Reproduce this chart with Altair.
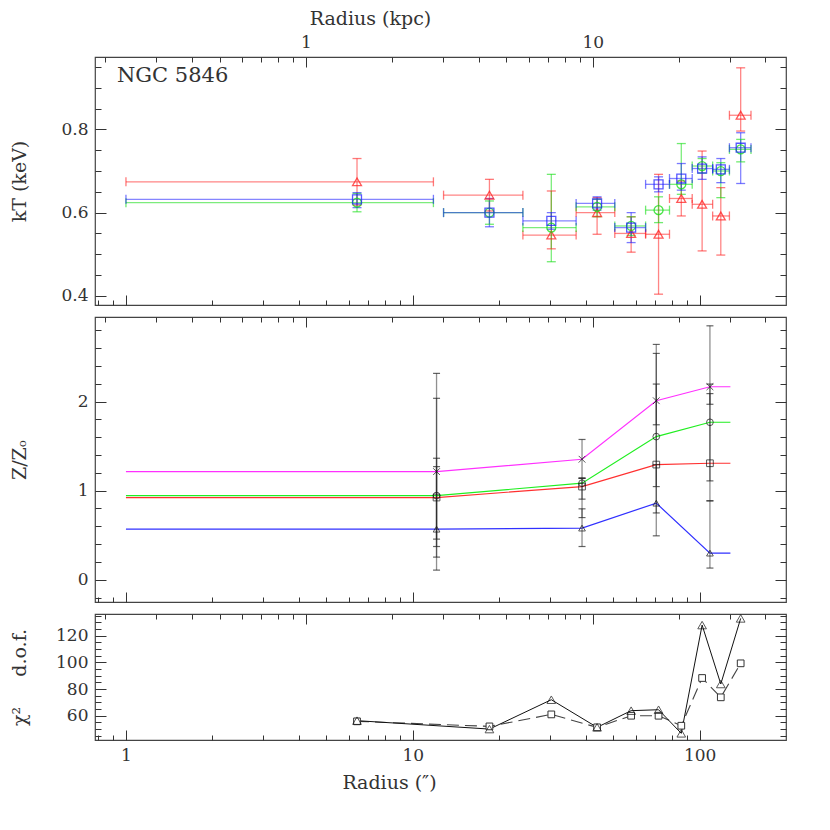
import altair as alt
import pandas as pd

# ---------------- top panel: kT ----------------
BIN_CENTER = [6.39, 18.5, 30.4, 43.9, 57.7, 71.9, 86.3, 102.0, 118.5, 139.0]
BIN_LO = [1.0, 12.8, 24.2, 37.1, 50.6, 64.8, 78.5, 94.2, 111.0, 127.0]
BIN_HI = [11.8, 24.2, 37.1, 50.6, 64.8, 78.5, 94.2, 111.0, 127.0, 151.0]

KT_RED = [0.674, 0.642, 0.546, 0.600, 0.550, 0.548, 0.634, 0.620, 0.592, 0.834]
KT_RED_LO = [0.618, 0.604, 0.513, 0.548, 0.505, 0.404, 0.592, 0.508, 0.498, 0.796]
KT_RED_HI = [0.730, 0.680, 0.652, 0.636, 0.590, 0.692, 0.676, 0.748, 0.660, 0.948]
KT_BLUE = [0.632, 0.600, 0.580, 0.622, 0.564, 0.668, 0.682, 0.706, 0.704, 0.756]
KT_BLUE_LO = [0.612, 0.566, 0.560, 0.606, 0.528, 0.650, 0.654, 0.680, 0.672, 0.670]
KT_BLUE_HI = [0.648, 0.634, 0.600, 0.638, 0.600, 0.686, 0.718, 0.734, 0.730, 0.792]
KT_GREEN = [0.624, 0.600, 0.564, 0.614, 0.568, 0.606, 0.668, 0.712, 0.700, 0.752]
KT_GREEN_LO = [0.602, 0.572, 0.482, 0.590, 0.545, 0.576, 0.644, 0.695, 0.636, 0.722]
KT_GREEN_HI = [0.646, 0.628, 0.692, 0.632, 0.590, 0.638, 0.766, 0.730, 0.720, 0.776]

# ---------------- middle panel: Z/Zo ----------------
Z_RADIUS = [12.1, 38.9, 70.6, 108.6]
Z_LINE_START = 1.0
Z_LINE_END = 128.0
Z_MAGENTA = [1.214, 1.353, 2.010, 2.167]
Z_MAGENTA_LO = [0.373, 1.14, 1.74, 1.97]
Z_MAGENTA_HI = [2.317, 1.575, 2.642, 2.851]
Z_GREEN = [0.945, 1.084, 1.607, 1.768]
Z_GREEN_LO = [0.254, 0.905, 1.046, 1.11]
Z_GREEN_HI = [2.037, 1.14, 2.197, 2.197]
Z_RED = [0.923, 1.046, 1.293, 1.308]
Z_RED_LO = [0.456, 0.698, 0.75, 0.886]
Z_RED_HI = [1.364, 1.14, 2.541, 2.09]
Z_BLUE = [0.568, 0.580, 0.860, 0.299]
Z_BLUE_LO = [0.108, 0.373, 0.493, 0.131]
Z_BLUE_HI = [1.270, 0.796, 1.293, 0.886]

# ---------------- bottom panel: chi2 / dof ----------------
CHI_TRI = [56.3, 50.0, 72.0, 51.3, 63.8, 64.5, 46.8, 128.0, 83.8, 133.0]
CHI_SQ = [55.8, 52.0, 61.0, 51.3, 60.0, 60.0, 52.5, 88.3, 73.8, 99.3]

# ---------------- axes ----------------
X_DOMAIN = [0.78, 200]
X_MAJOR = [1, 10, 100]
X_MINOR = [0.8, 0.9, 2, 3, 4, 5, 6, 7, 8, 9, 20, 30, 40, 50, 60, 70, 80, 90]
ARCSEC_PER_KPC = 4.24
KPC_MAJOR = [1, 10]
KPC_MINOR = [0.2, 0.3, 0.4, 0.5, 0.6, 0.7, 0.8, 0.9, 2, 3, 4, 5, 6, 7, 8, 9, 20, 30, 40]

KT_DOMAIN = [0.378, 0.974]
KT_MAJOR = [0.4, 0.6, 0.8]
KT_MINOR = [0.45, 0.5, 0.55, 0.65, 0.7, 0.75, 0.85, 0.9, 0.95]
Z_DOMAIN = [-0.25, 2.95]
Z_MAJOR = [0, 1, 2]
Z_MINOR = [-0.2, 0.2, 0.4, 0.6, 0.8, 1.2, 1.4, 1.6, 1.8, 2.2, 2.4, 2.6, 2.8]
CHI_DOMAIN = [41.8, 136.3]
CHI_MAJOR = [60, 80, 100, 120]
CHI_MINOR = [45, 50, 55, 65, 70, 75, 85, 90, 95, 105, 110, 115, 125, 130, 135]

W = 691
H_TOP, H_MID, H_BOT = 248, 285, 126
FONT = "DejaVu Serif"
TXT = "#333333"
TICK = "#333333"

XS = alt.Scale(type="log", domain=X_DOMAIN, nice=False)
NB = "\u00a0"


def axis_layers(ys, ymid, y_major, y_minor, y_fmt, y_title, height,
                bottom_labels=False, top_labels=False):
    dummy = pd.DataFrame({"x": [10.0], "y": [ymid]})
    base = alt.Chart(dummy).mark_point(opacity=0)
    common = dict(domain=False, grid=False, labelFont=FONT, labelFontSize=17,
                  labelColor=TXT, tickColor=TICK, tickWidth=1, titleFont=FONT,
                  titleFontSize=19, titleColor=TXT, titleFontWeight="normal")
    xb = dict(orient="bottom", values=X_MAJOR, tickSize=10, offset=-10,
              labels=bottom_labels, format="d", labelPadding=7, **common)
    if bottom_labels:
        xb.update(title="Radius (\u2033)", titlePadding=10, titleX=294)
    else:
        xb.update(title=None)
    l1 = base.encode(
        x=alt.X("x:Q", scale=XS, axis=alt.Axis(**xb)),
        y=alt.Y("y:Q", scale=ys, axis=alt.Axis(
            orient="left", values=y_major, tickSize=11, offset=-11, format=y_fmt,
            labelPadding=7, title=y_title, titleX=-77, titleY=height / 2,
            titleAngle=-90, **common)),
    )
    l2 = base.encode(
        x=alt.X("x:Q", scale=XS, axis=alt.Axis(
            orient="bottom", values=X_MINOR, tickSize=5, offset=-5, labels=False,
            title=None, **common)),
        y=alt.Y("y:Q", scale=ys, axis=alt.Axis(
            orient="left", values=y_minor, tickSize=6, offset=-6, labels=False,
            title=None, **common)),
    )
    xt = dict(orient="top", values=[v * ARCSEC_PER_KPC for v in KPC_MAJOR],
              tickSize=10, offset=-10, labels=top_labels,
              labelExpr="datum.value < 10 ? '1' : '10'", labelPadding=6, **common)
    if top_labels:
        xt.update(title="Radius (kpc)", titlePadding=5, titleX=275)
    else:
        xt.update(title=None)
    l3 = base.encode(
        x=alt.X("x:Q", scale=XS, axis=alt.Axis(**xt)),
        y=alt.Y("y:Q", scale=ys, axis=alt.Axis(
            orient="right", values=y_major, tickSize=11, offset=-11, labels=False,
            title=None, **common)),
    )
    l4 = base.encode(
        x=alt.X("x:Q", scale=XS, axis=alt.Axis(
            orient="top", values=[v * ARCSEC_PER_KPC for v in KPC_MINOR],
            tickSize=5, offset=-5, labels=False, title=None, **common)),
        y=alt.Y("y:Q", scale=ys, axis=alt.Axis(
            orient="right", values=y_minor, tickSize=6, offset=-6, labels=False,
            title=None, **common)),
    )
    return [l1, l2, l3, l4]


def xq(f, sc=XS):
    return alt.X(f, scale=sc, axis=None)


def yq(f, sc):
    return alt.Y(f, scale=sc, axis=None)


# ---------------- top panel ----------------
YS_TOP = alt.Scale(domain=KT_DOMAIN, nice=False, zero=False)
top_series = [
    ("red", KT_RED, KT_RED_LO, KT_RED_HI),
    ("green", KT_GREEN, KT_GREEN_LO, KT_GREEN_HI),
    ("blue", KT_BLUE, KT_BLUE_LO, KT_BLUE_HI),
]
rows, xcaps, ycaps = [], [], []
for name, kt, lo, hi in top_series:
    for i in range(len(BIN_CENTER)):
        rows.append(dict(s=name, r=BIN_CENTER[i], rlo=BIN_LO[i], rhi=BIN_HI[i],
                         kt=kt[i], lo=lo[i], hi=hi[i]))
        xcaps.append(dict(s=name, x=BIN_LO[i], y=kt[i]))
        xcaps.append(dict(s=name, x=BIN_HI[i], y=kt[i]))
        ycaps.append(dict(s=name, x=BIN_CENTER[i], y=lo[i]))
        ycaps.append(dict(s=name, x=BIN_CENTER[i], y=hi[i]))
top_df = pd.DataFrame(rows)
COL = alt.Color("s:N", scale=alt.Scale(domain=["red", "green", "blue"],
                                       range=["#ff2020", "#10dd10", "#2020ff"]),
                legend=None)
SHP = alt.Shape("s:N", scale=alt.Scale(domain=["red", "green", "blue"],
                                       range=["triangle-up", "circle", "square"]),
                legend=None)

tb = alt.Chart(top_df)
t_h = tb.mark_rule(strokeWidth=1.3, opacity=0.55).encode(
    x=xq("rlo:Q"), x2="rhi:Q", y=yq("kt:Q", YS_TOP), color=COL)
t_v = tb.mark_rule(strokeWidth=1.3, opacity=0.55).encode(
    x=xq("r:Q"), y=yq("lo:Q", YS_TOP), y2="hi:Q", color=COL)
t_xc = alt.Chart(pd.DataFrame(xcaps)).mark_tick(
    orient="vertical", size=9, thickness=1.3, opacity=0.6).encode(
    x=xq("x:Q"), y=yq("y:Q", YS_TOP), color=COL)
t_yc = alt.Chart(pd.DataFrame(ycaps)).mark_tick(
    orient="horizontal", size=9, thickness=1.3, opacity=0.6).encode(
    x=xq("x:Q"), y=yq("y:Q", YS_TOP), color=COL)
t_pt = tb.mark_point(filled=False, size=80, strokeWidth=1.3, opacity=0.75).encode(
    x=xq("r:Q"), y=yq("kt:Q", YS_TOP), color=COL, shape=SHP)
t_lab = alt.Chart(pd.DataFrame({"x": [0.93], "y": [0.928], "t": ["NGC 5846"]})).mark_text(
    align="left", baseline="middle", font=FONT, fontSize=21, color=TXT).encode(
    x=xq("x:Q"), y=yq("y:Q", YS_TOP), text="t:N")

top = alt.layer(
    t_h, t_v, t_xc, t_yc, t_pt, t_lab,
    *axis_layers(YS_TOP, 0.6, KT_MAJOR, KT_MINOR, ".1f", "kT (keV)", H_TOP,
                 top_labels=True)
).resolve_axis(x="independent", y="independent").properties(width=W, height=H_TOP)

# ---------------- middle panel ----------------
YS_MID = alt.Scale(domain=Z_DOMAIN, nice=False, zero=False)
mid_series = [
    ("magenta", Z_MAGENTA, Z_MAGENTA_LO, Z_MAGENTA_HI),
    ("green", Z_GREEN, Z_GREEN_LO, Z_GREEN_HI),
    ("red", Z_RED, Z_RED_LO, Z_RED_HI),
    ("blue", Z_BLUE, Z_BLUE_LO, Z_BLUE_HI),
]
lines, pts, caps = [], [], []
for name, z, lo, hi in mid_series:
    xs_line = [Z_LINE_START] + Z_RADIUS + [Z_LINE_END]
    zs_line = [z[0]] + z + [z[-1]]
    for k, (a, b) in enumerate(zip(xs_line, zs_line)):
        lines.append(dict(m=name, x=a, z=b, o=k))
    for i in range(len(Z_RADIUS)):
        pts.append(dict(m=name, x=Z_RADIUS[i], z=z[i], lo=lo[i], hi=hi[i]))
        caps.append(dict(m=name, x=Z_RADIUS[i], y=lo[i]))
        caps.append(dict(m=name, x=Z_RADIUS[i], y=hi[i]))
XPATH = "M-1,-1L1,1M-1,1L1,-1"
MCOL = alt.Color("m:N", scale=alt.Scale(
    domain=["magenta", "green", "red", "blue"],
    range=["#ff30ff", "#20ee20", "#ff3030", "#3030ff"]), legend=None)
MSHP = alt.Shape("m:N", scale=alt.Scale(
    domain=["magenta", "green", "red", "blue"],
    range=[XPATH, "circle", "square", "triangle-up"]), legend=None)
m_line = alt.Chart(pd.DataFrame(lines)).mark_line(strokeWidth=1.2).encode(
    x=xq("x:Q"), y=yq("z:Q", YS_MID), color=MCOL, order="o:Q", detail="m:N")
pdf = pd.DataFrame(pts)
m_err = alt.Chart(pdf).mark_rule(color="#222222", strokeWidth=1.3, opacity=0.5).encode(
    x=xq("x:Q"), y=yq("lo:Q", YS_MID), y2="hi:Q")
m_cap = alt.Chart(pd.DataFrame(caps)).mark_tick(
    orient="horizontal", size=7, thickness=1.2, color="#222222", opacity=0.7).encode(
    x=xq("x:Q"), y=yq("y:Q", YS_MID))
m_pt = alt.Chart(pdf).mark_point(filled=False, size=45, strokeWidth=1, color="#111111").encode(
    x=xq("x:Q"), y=yq("z:Q", YS_MID), shape=MSHP)
mid = alt.layer(
    m_line, m_err, m_cap, m_pt,
    *axis_layers(YS_MID, 1.0, Z_MAJOR, Z_MINOR, "d", "Z/Z\u2092", H_MID)
).resolve_axis(x="independent", y="independent").properties(width=W, height=H_MID)

# ---------------- bottom panel ----------------
YS_BOT = alt.Scale(domain=CHI_DOMAIN, nice=False, zero=False)
bdf = pd.DataFrame({"x": BIN_CENTER, "tri": CHI_TRI, "sq": CHI_SQ,
                    "o": list(range(len(BIN_CENTER)))})
b_sq_line = alt.Chart(bdf).mark_line(color="#444444", strokeWidth=1.1,
                                     strokeDash=[12, 6]).encode(
    x=xq("x:Q"), y=yq("sq:Q", YS_BOT), order="o:Q")
b_tri_line = alt.Chart(bdf).mark_line(color="#111111", strokeWidth=1.0).encode(
    x=xq("x:Q"), y=yq("tri:Q", YS_BOT), order="o:Q")
b_sq = alt.Chart(bdf).mark_point(shape="square", filled=True, fill="white",
                                 stroke="#333333", size=45, strokeWidth=1, opacity=1).encode(
    x=xq("x:Q"), y=yq("sq:Q", YS_BOT))
b_tri = alt.Chart(bdf).mark_point(shape="triangle-up", filled=False, color="#111111",
                                  size=75, strokeWidth=1).encode(
    x=xq("x:Q"), y=yq("tri:Q", YS_BOT))
bot = alt.layer(
    b_sq_line, b_tri_line, b_sq, b_tri,
    *axis_layers(YS_BOT, 80, CHI_MAJOR, CHI_MINOR, "d",
                 "\u03c7\u00b2" + NB * 5 + "d.o.f.", H_BOT, bottom_labels=True)
).resolve_axis(x="independent", y="independent").properties(width=W, height=H_BOT)

chart = alt.vconcat(top, mid, bot, spacing=8).resolve_scale(
    color="independent", shape="independent"
).properties(
    padding={"left": 1, "top": 0, "right": 5, "bottom": 5}
).configure_view(stroke="#444444", strokeWidth=1.2)

chart.save("out.html", embed_options={"renderer": "svg", "actions": False})
